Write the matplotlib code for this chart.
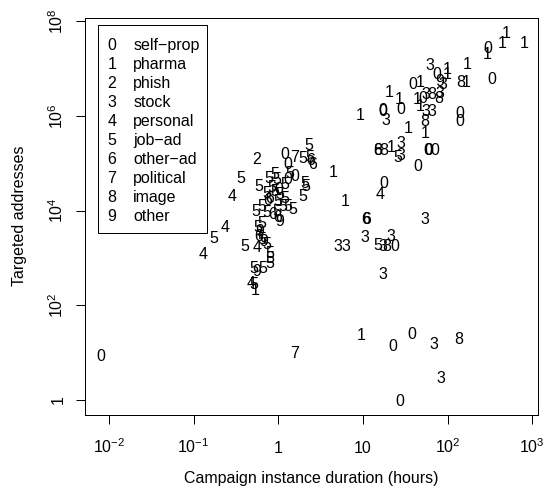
import matplotlib
matplotlib.use('Agg')
import matplotlib.pyplot as plt
from matplotlib.patches import Rectangle

plt.rcParams['font.family'] = 'Liberation Sans'
plt.rcParams['mathtext.fontset'] = 'custom'
plt.rcParams['mathtext.rm'] = 'Liberation Sans'
plt.rcParams['mathtext.it'] = 'Liberation Sans:italic'
plt.rcParams['mathtext.bf'] = 'Liberation Sans:bold'

# legend categories (code = list index)
categories = ['self\u2212prop', 'pharma', 'phish', 'stock', 'personal',
              'job\u2212ad', 'other\u2212ad', 'political', 'image', 'other']

# campaign instances: duration (hours), targeted addresses, category code
duration = [
    # bottom
    0.0081, 1.54, 9.5, 22.7, 38, 68, 136, 83, 27,
    # middle right
    4.5, 17.7, 15.9, 6.1, 10.9, 11.1, 54, 10.4, 21.3, 5.0, 6.3, 14.8, 17.4,
    19.2, 23.9, 17.4,
    # upper right
    490, 440, 810, 296, 296, 170, 333, 141, 165, 61.5, 74, 98, 100, 81, 89,
    39, 47, 20.4, 26.9, 43.8, 51, 56, 64.5, 77.6, 81, 47, 56, 66, 9.3, 17,
    17.3, 18.6, 27.6, 141, 141, 33.8, 53.6, 53.6, 14.8, 14.8, 17.8, 21.3,
    28.1, 25.7, 28.1, 58.8, 60, 70.6, 44.7,
    # left cluster
    2.31, 0.556, 1.18, 1.55, 1.97, 2.37, 2.52, 2.43, 1.29, 1.37, 1.57, 0.363,
    0.762, 0.914, 0.97, 1.2, 1.3, 2.07, 2.12, 0.59, 0.73, 0.80, 0.914, 1.05,
    1.2, 0.996, 1.97, 1.5, 1.31, 0.541, 0.73, 0.957, 0.98, 1.05, 0.637,
    0.608, 0.58, 0.58, 0.404, 0.556, 0.73, 0.798, 0.798, 0.798, 0.507,
    0.556, 0.665, 0.476, 0.516, 0.531, 0.282, 0.235, 0.171, 0.130, 0.84,
    0.755, 1.14, 0.865, 0.64, 1.0, 0.68, 0.64,
]
addresses = [
    # bottom
    9, 10, 24, 14, 26, 16, 20, 3, 1,
    # middle right
    69000, 41000, 23000, 17000, 6800, 6900, 6800, 2900, 3000, 1900, 1900,
    1950, 1900, 1900, 1900, 480,
    # upper right
    5.9e7, 3.6e7, 3.6e7, 2.8e7, 2.1e7, 1.33e7, 6.3e6, 5.4e6, 5.6e6, 1.23e7,
    8.1e6, 1.04e7, 8.1e6, 5.8e6, 5.0e6, 5.0e6, 5.4e6, 3.3e6, 2.36e6, 2.36e6,
    2.56e6, 3.0e6, 3.0e6, 2.56e6, 3.2e6, 1.69e6, 1.32e6, 1.32e6, 1.12e6,
    1.43e6, 1.36e6, 8.8e5, 1.48e6, 1.2e6, 8.1e5, 5.8e5, 8.1e5, 4.6e5,
    1.98e5, 1.98e5, 1.98e5, 2.33e5, 2.75e5, 1.43e5, 1.55e5, 1.98e5, 1.98e5,
    1.98e5, 9.0e4,
    # left cluster
    2.55e5, 1.27e5, 1.67e5, 1.42e5, 1.37e5, 1.42e5, 1.03e5, 1.23e5, 1.03e5,
    6.6e4, 5.6e4, 5.0e4, 5.2e4, 6.1e4, 4.8e4, 3.76e4, 4.9e4, 4.06e4, 3.46e4,
    3.46e4, 2.5e4, 1.96e4, 2.7e4, 2.34e4, 1.93e4, 1.67e4, 2.13e4, 1.11e4,
    1.31e4, 1.02e4, 9900, 1.02e4, 7650, 6300, 5800, 3870, 3030, 4700, 1870,
    1780, 2030, 1350, 1050, 828, 649, 552, 649, 308, 293, 219, 2.13e4, 4700,
    2790, 1280, 3.3e4, 1.75e4, 1.31e4, 8900, 1.31e4, 3.0e4, 2380, 2600,
]
category = [
    # bottom
    0, 7, 1, 0, 0, 3, 8, 3, 0,
    # middle right
    1, 0, 4, 1, 6, 6, 3, 3, 3, 3, 3, 5, 3, 8, 0, 3,
    # upper right
    1, 1, 1, 0, 1, 1, 0, 8, 1, 3, 0, 1, 1, 9, 3, 0, 1, 1, 1, 1, 0, 3, 8, 8,
    3, 1, 3, 3, 1, 0, 0, 3, 0, 0, 0, 1, 8, 1, 6, 8, 8, 1, 3, 5, 3, 0, 0, 0,
    0,
    # left cluster
    5, 2, 0, 7, 5, 5, 6, 6, 0, 5, 0, 5, 5, 5, 5, 5, 0, 5, 5, 5, 5, 6, 5, 5,
    5, 5, 5, 5, 5, 5, 5, 5, 6, 9, 5, 9, 6, 5, 5, 4, 5, 5, 5, 5, 5, 9, 5, 4,
    5, 1, 4, 4, 5, 4, 5, 6, 5, 6, 5, 0, 9, 5,
]

xticks = [1e-2, 1e-1, 1, 10, 1e2, 1e3]
xticklabels = ['$10^{-2}$', '$10^{-1}$', '1', '10', '$10^{2}$', '$10^{3}$']
yticks = [1, 1e2, 1e4, 1e6, 1e8]
yticklabels = ['1', '$10^{2}$', '$10^{4}$', '$10^{6}$', '$10^{8}$']

W, H = 544, 488
fig = plt.figure(figsize=(W / 96, H / 96), dpi=96)
ax = fig.add_axes([85 / W, 1 - 414.7 / H, (538 - 85) / W, (414.7 - 18.3) / H])
ax.set_xscale('log')
ax.set_yscale('log')
ax.set_xlim(0.00521, 1167)
ax.set_ylim(0.482, 1.157e8)

for d, a, c in zip(duration, addresses, category):
    ax.text(d, a, str(c), ha='center', va='center_baseline', fontsize=12)

ax.set_xticks(xticks, labels=xticklabels)
ax.set_yticks(yticks, labels=yticklabels)
ax.minorticks_off()
ax.tick_params(length=6.75, width=0.75, direction='out', labelsize=12)
ax.tick_params(axis='x', pad=22)
ax.tick_params(axis='y', pad=10)
for lab in ax.get_xticklabels():
    lab.set_va('baseline')
for lab in ax.get_yticklabels():
    lab.set_rotation(90)
    lab.set_rotation_mode('anchor')
    lab.set_ha('center')
    lab.set_va('baseline')
for s in ax.spines.values():
    s.set_linewidth(0.75)

# legend box drawn like R's legend()
fig.patches.append(Rectangle((97.7 / W, 1 - 233 / H), 109 / W, 208 / H,
                             transform=fig.transFigure, fill=False,
                             edgecolor='black', linewidth=0.75))
for i, name in enumerate(categories):
    yy = 1 - (44 + 19 * i) / H
    fig.text(111.7 / W, yy, str(i), ha='center', va='center_baseline', fontsize=12)
    fig.text(133.3 / W, yy, name, ha='left', va='center_baseline', fontsize=12)

fig.text(311.5 / W, 1 - 478 / H, 'Campaign instance duration (hours)',
         ha='center', va='center', fontsize=12)
fig.text(20 / W, 1 - 216 / H, 'Targeted addresses', rotation=90,
         ha='center', va='center', fontsize=12)

fig.savefig('out.png', dpi=96)
